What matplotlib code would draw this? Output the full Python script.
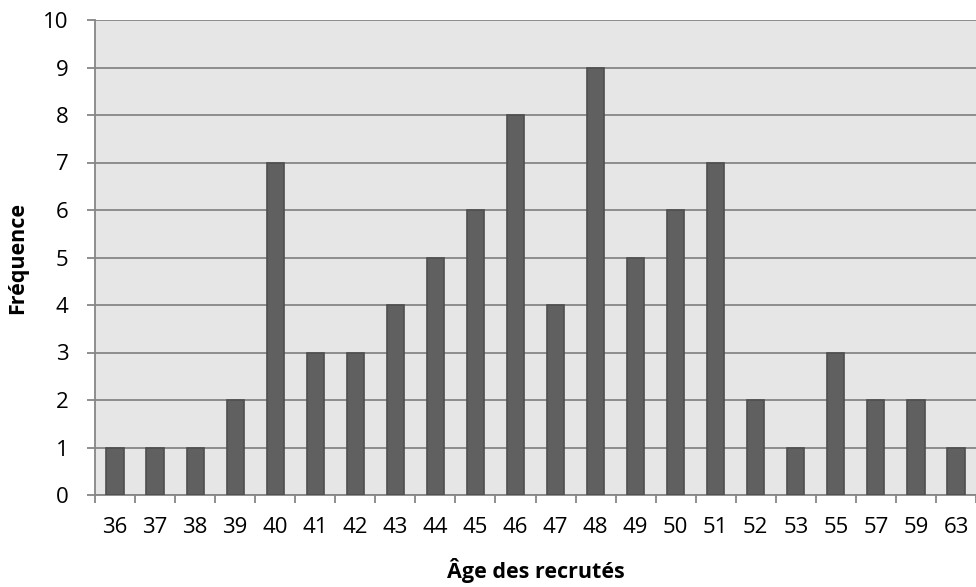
import numpy as np
import matplotlib.pyplot as plt
from matplotlib.ticker import FixedLocator

# ages (categories) and counts
ages = ["36", "37", "38", "39", "40", "41", "42", "43", "44", "45", "46",
        "47", "48", "49", "50", "51", "52", "53", "55", "57", "59", "63"]
counts = [1, 1, 1, 2, 7, 3, 3, 4, 5, 6, 8, 4, 9, 5, 6, 7, 2, 1, 3, 2, 2, 1]

plt.rcParams['font.family'] = ['Open Sans', 'DejaVu Sans']

fig = plt.figure(figsize=(9.76, 5.87), dpi=100)
ax = fig.add_axes([95 / 976, 92 / 587, 881 / 976, 475 / 587])
ax.set_facecolor('#e6e6e6')

x = np.arange(len(ages))
ax.bar(x, counts, width=0.43, color='#606060', edgecolor='#4e4e4e',
       linewidth=1.2, zorder=3)

ax.set_xlim(-0.5, len(ages) - 0.5)
ax.set_ylim(0, 10)
ax.set_yticks(range(0, 11))
ax.yaxis.grid(True, color='#868686', linewidth=1.3, zorder=1)
ax.set_axisbelow(True)

ax.set_xticks(x)
ax.set_xticklabels(ages)
ax.xaxis.set_minor_locator(FixedLocator(np.arange(-0.5, len(ages), 1.0)))
ax.tick_params(axis='x', which='major', length=0, pad=16, labelsize=16)
ax.tick_params(axis='x', which='minor', length=6, width=1.3, color='#868686')
ax.tick_params(axis='y', length=6, width=1.3, color='#868686', pad=13,
               labelsize=16)

for side in ['top', 'right']:
    ax.spines[side].set_visible(False)
for side in ['left', 'bottom']:
    ax.spines[side].set_color('#868686')
    ax.spines[side].set_linewidth(1.3)

ax.set_xlabel('Âge des recrutés', fontsize=15.5, fontweight='bold', labelpad=14)
ax.set_ylabel('Fréquence', fontsize=15.5, fontweight='bold', labelpad=11)

fig.savefig('out.png', dpi=100)
